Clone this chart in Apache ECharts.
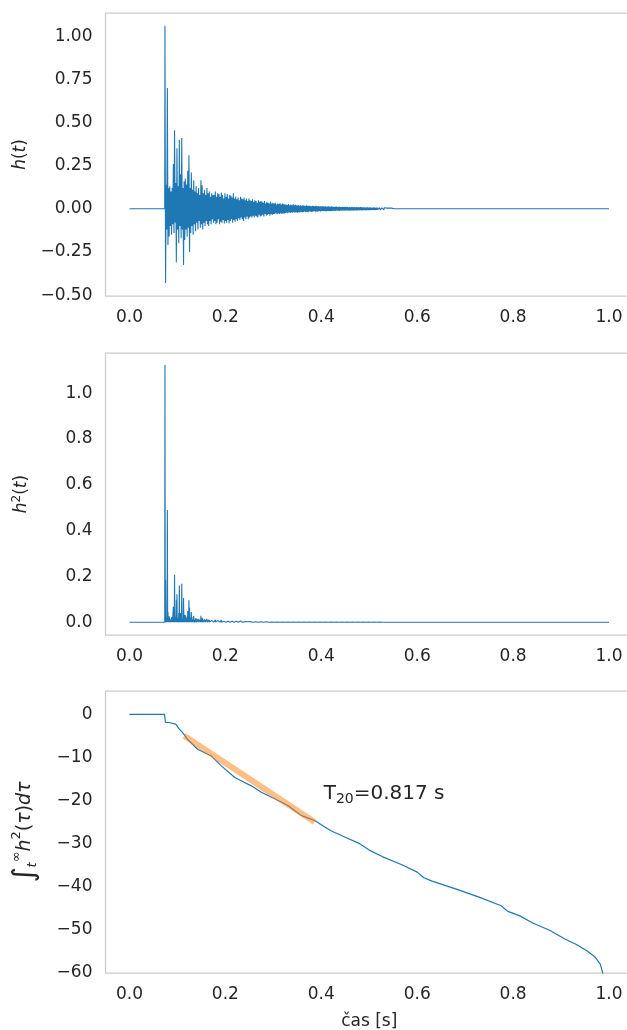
<!DOCTYPE html>
<html>
<head>
<meta charset="utf-8">
<script src="https://cdn.jsdelivr.net/npm/echarts@6/dist/echarts.min.js"></script>
<style>html,body{margin:0;padding:0;background:#fff}#c{width:627px;height:1030px}</style>
</head>
<body>
<div id="c"></div>
<script>
// ---------- data ----------
const xTicks = [0, 0.2, 0.4, 0.6, 0.8, 1.0];
const hTicks = [-0.5, -0.25, 0, 0.25, 0.5, 0.75, 1.0];
const h2Ticks = [0, 0.2, 0.4, 0.6, 0.8, 1.0];
const sTicks = [0, -10, -20, -30, -40, -50, -60];

// impulse response h(t): flat before onset, then per-bin peak values (upper / lower)
const hOnset = 0.0735;
const hBinStart = 0.074;
const hBinStep = 0.0025;
const hEnd = 1.0;
const hUpper = [
  1.06,0.14,0.70,0.12,0.13,0.10,0.12,0.26,0.455,0.15,
  0.35,0.13,0.40,0.20,0.41,0.12,0.16,0.175,0.14,0.22,
  0.31,0.12,0.21,0.11,0.166,0.10,0.13,0.09,0.12,0.08,
  0.166,0.137,0.09,0.11,0.08,0.12,0.09,0.10,0.07,0.09,0.08,
  0.08,0.10,0.07,0.09,0.085,0.07,0.095,0.08,0.06,0.09,
  0.07,0.085,0.06,0.08,0.075,0.065,0.09,0.06,0.07,0.055,
  0.065,0.05,0.07,0.06,0.055,0.065,0.05,0.06,0.045,0.06,
  0.05,0.045,0.055,0.04,0.05,0.045,0.035,0.05,0.04,0.045,
  0.04,0.035,0.045,0.03,0.04,0.035,0.03,0.04,0.03,0.035,
  0.03,0.035,0.025,0.03,0.028,0.032,0.025,0.03,0.027,0.025,
  0.025,0.022,0.027,0.02,0.024,0.021,0.026,0.02,0.023,0.019,
  0.022,0.018,0.021,0.017,0.02,0.019,0.016,0.02,0.018,0.017,
  0.018,0.015,0.017,0.016,0.014,0.017,0.015,0.016,0.013,0.015,
  0.014,0.015,0.013,0.014,0.012,0.014,0.013,0.012,0.014,0.012,
  0.012,0.011,0.013,0.01,0.012,0.011,0.01,0.012,0.01,0.011,
  0.01,0.011,0.009,0.01,0.009,0.011,0.009,0.01,0.008,0.01,
  0.009,0.008,0.01,0.008,0.009,0.008,0.007,0.009,0.008,0.007,
  0.008,0.007,0.006,0.008,0.007,0.006,0.007,0.006,0.007,0.005,
  0.006,0.005,0.006,0.005,0.004,0.005,0.004,0.005,0.004,0.004
];
const hLower = [
  -0.43,-0.12,-0.21,-0.16,-0.10,-0.15,-0.09,-0.14,-0.08,-0.31,
  -0.12,-0.20,-0.10,-0.17,-0.12,-0.325,-0.18,-0.12,-0.16,-0.11,
  -0.25,-0.14,-0.10,-0.15,-0.09,-0.13,-0.08,-0.12,-0.07,-0.11,
  -0.09,-0.12,-0.08,-0.10,-0.07,-0.09,-0.10,-0.07,-0.09,-0.06,-0.08,
  -0.07,-0.09,-0.08,-0.06,-0.09,-0.075,-0.08,-0.065,-0.085,-0.07,
  -0.08,-0.065,-0.085,-0.07,-0.06,-0.08,-0.065,-0.075,-0.06,-0.07,
  -0.055,-0.065,-0.05,-0.06,-0.07,-0.05,-0.06,-0.045,-0.06,-0.05,
  -0.045,-0.05,-0.04,-0.05,-0.04,-0.045,-0.05,-0.035,-0.045,-0.04,
  -0.035,-0.045,-0.03,-0.04,-0.035,-0.03,-0.04,-0.03,-0.035,-0.03,
  -0.03,-0.025,-0.032,-0.027,-0.03,-0.025,-0.03,-0.026,-0.028,-0.024,
  -0.022,-0.025,-0.02,-0.024,-0.021,-0.023,-0.019,-0.022,-0.02,-0.023,
  -0.019,-0.021,-0.017,-0.02,-0.018,-0.016,-0.02,-0.017,-0.019,-0.016,
  -0.016,-0.018,-0.015,-0.014,-0.017,-0.015,-0.016,-0.013,-0.015,-0.014,
  -0.013,-0.014,-0.012,-0.015,-0.013,-0.012,-0.014,-0.012,-0.013,-0.011,
  -0.011,-0.012,-0.01,-0.011,-0.012,-0.01,-0.011,-0.01,-0.011,-0.01,
  -0.01,-0.009,-0.011,-0.009,-0.01,-0.009,-0.01,-0.008,-0.01,-0.009,
  -0.008,-0.009,-0.008,-0.009,-0.007,-0.008,-0.009,-0.007,-0.008,-0.007,
  -0.007,-0.006,-0.008,-0.006,-0.007,-0.006,-0.005,-0.007,-0.006,-0.005,
  -0.005,-0.006,-0.004,-0.005,-0.005,-0.004,-0.005,-0.004,-0.004,-0.003
];

// Schroeder decay curve (dB)
const sTime = [0, 0.073, 0.075, 0.0825, 0.0965, 0.1035, 0.1105, 0.121, 0.142, 0.170, 0.191, 0.219, 0.233, 0.254, 0.275, 0.303, 0.331, 0.359, 0.387, 0.40, 0.42, 0.45, 0.48, 0.50, 0.527, 0.568, 0.60, 0.614, 0.631, 0.680, 0.729, 0.775, 0.789, 0.813, 0.841, 0.876, 0.908, 0.932, 0.953, 0.971, 0.982, 0.988];
const sLevel = [0, 0, -1.9, -1.9, -2.3, -3.4, -4.2, -5.8, -8.1, -9.6, -11.9, -14.6, -15.4, -16.6, -18.1, -19.6, -21.2, -23.5, -24.7, -25.6, -27.0, -28.5, -30.0, -31.5, -33.0, -34.9, -36.6, -37.9, -38.7, -40.5, -42.4, -44.4, -45.7, -46.7, -48.4, -50.1, -52.1, -53.4, -54.8, -56.3, -58.0, -60.5];

// T20 regression line
const fitTime = [0.114, 0.386];
const fitLevel = [-5, -25];
const annotTime = 0.405, annotLevel = -18.4;
const annotText = ['T', '20', '=0.817 s'];

// ---------- build series ----------
const hData = [[0, 0], [hOnset, 0]];
const h2Data = [[0, 0], [hOnset, 0]];
for (let i = 0; i < hUpper.length; i++) {
  const t = hBinStart + i * hBinStep;
  hData.push([t, hUpper[i]], [t + hBinStep / 2, hLower[i]]);
  h2Data.push([t, hUpper[i] * hUpper[i]], [t + hBinStep / 4, 0], [t + hBinStep / 2, hLower[i] * hLower[i]], [t + 3 * hBinStep / 4, 0]);
}
const hLast = hBinStart + hUpper.length * hBinStep;
hData.push([hLast, 0], [hEnd, 0]);
h2Data.push([hLast, 0], [hEnd, 0]);
const sData = sTime.map((t, i) => [t, sLevel[i]]);
const fitData = fitTime.map((t, i) => [t, fitLevel[i]]);

// ---------- chart ----------
const FONT = 'DejaVu Sans';
const TXT = '#262626';
const BLUE = '#1f77b4';
const minus = s => s.replace('-', '\u2212');

const grids = [
  { left: 105.5, top: 13, width: 527.5, height: 283 },
  { left: 105.5, top: 353, width: 527.5, height: 282 },
  { left: 105.5, top: 691, width: 527.5, height: 282 }
].map(g => Object.assign(g, { show: true, borderColor: '#cccccc', borderWidth: 1.25, backgroundColor: 'transparent',
  outerBoundsMode: 'none', containLabel: false }));

function xAxis(idx, withName) {
  const ax = {
    type: 'value', gridIndex: idx, min: -0.05, max: 1.05,
    axisLine: { show: false }, axisTick: { show: false }, splitLine: { show: false },
    axisLabel: { customValues: xTicks, formatter: v => v.toFixed(1), color: TXT, fontFamily: FONT, fontSize: 17, margin: 13 }
  };
  if (withName) {
    Object.assign(ax, { name: 'čas [s]', nameLocation: 'middle', nameGap: 40,
      nameTextStyle: { color: TXT, fontFamily: FONT, fontSize: 17 } });
  }
  return ax;
}
function mathRich(base) {
  return {
    i: { fontFamily: FONT, fontStyle: 'italic', fontSize: base, color: TXT },
    n: { fontFamily: FONT, fontSize: base, color: TXT },
    sup: { fontFamily: FONT, fontSize: Math.round(base * 0.7), color: TXT, verticalAlign: 'top', lineHeight: base + 6 },
    sub: { fontFamily: FONT, fontStyle: 'italic', fontSize: Math.round(base * 0.7), color: TXT, verticalAlign: 'bottom', lineHeight: base + 6 },
    int: { fontFamily: FONT, fontSize: Math.round(base * 1.5), color: TXT }
  };
}
function yAxis(idx, min, max, ticks, fmt, name, gap, base) {
  return {
    type: 'value', gridIndex: idx, min: min, max: max,
    axisLine: { show: false }, axisTick: { show: false }, splitLine: { show: false },
    axisLabel: { customValues: ticks, formatter: v => minus(fmt(v)), color: TXT, fontFamily: FONT, fontSize: 17, margin: 13 },
    name: name, nameLocation: 'middle', nameGap: gap,
    nameTextStyle: { color: TXT, fontFamily: FONT, fontSize: base, rich: mathRich(base) }
  };
}

const chart = echarts.init(document.getElementById('c'), null, { renderer: 'canvas' });
chart.setOption({
  animation: false,
  backgroundColor: '#ffffff',
  grid: grids,
  xAxis: [xAxis(0, false), xAxis(1, false), xAxis(2, true)],
  yAxis: [
    yAxis(0, -0.505, 1.134, hTicks, v => v.toFixed(2), '{i|h}{n|(}{i|t}{n|)}', 76, 17),
    yAxis(1, -0.056, 1.176, h2Ticks, v => v.toFixed(1), '{i|h}{sup|2}{n|(}{i|t}{n|)}', 72, 17),
    yAxis(2, -60, 5.4, sTicks, v => String(Math.round(v)), '{int|∫}{sub|t}{sup|∞}{i|h}{sup|2}{n|(}{i|τ}{n|)}{i|dτ}', 66, 19)
  ],
  series: [
    { type: 'line', xAxisIndex: 0, yAxisIndex: 0, data: hData, showSymbol: false, sampling: 'none',
      lineStyle: { color: BLUE, width: 1.1 }, itemStyle: { color: BLUE } },
    { type: 'line', xAxisIndex: 1, yAxisIndex: 1, data: h2Data, showSymbol: false, sampling: 'none',
      lineStyle: { color: BLUE, width: 1.1 }, itemStyle: { color: BLUE } },
    { type: 'line', xAxisIndex: 2, yAxisIndex: 2, data: sData, showSymbol: false,
      lineStyle: { color: BLUE, width: 1.2 }, itemStyle: { color: BLUE } },
    { type: 'line', xAxisIndex: 2, yAxisIndex: 2, data: fitData, showSymbol: false,
      lineStyle: { color: '#ff7f0e', width: 6, opacity: 0.5, cap: 'butt' }, itemStyle: { color: '#ff7f0e' } },
    { type: 'scatter', xAxisIndex: 2, yAxisIndex: 2, data: [[annotTime, annotLevel]], symbolSize: 0,
      itemStyle: { opacity: 1 },
      label: { show: true, position: 'right', distance: 0, opacity: 1,
        formatter: '{a|' + annotText[0] + '}{s|' + annotText[1] + '}{a|' + annotText[2] + '}',
        rich: {
          a: { fontFamily: FONT, fontSize: 20, color: TXT, lineHeight: 26 },
          s: { fontFamily: FONT, fontSize: 14, color: TXT, verticalAlign: 'bottom', lineHeight: 26 }
        } } }
  ]
});
</script>
</body>
</html>
